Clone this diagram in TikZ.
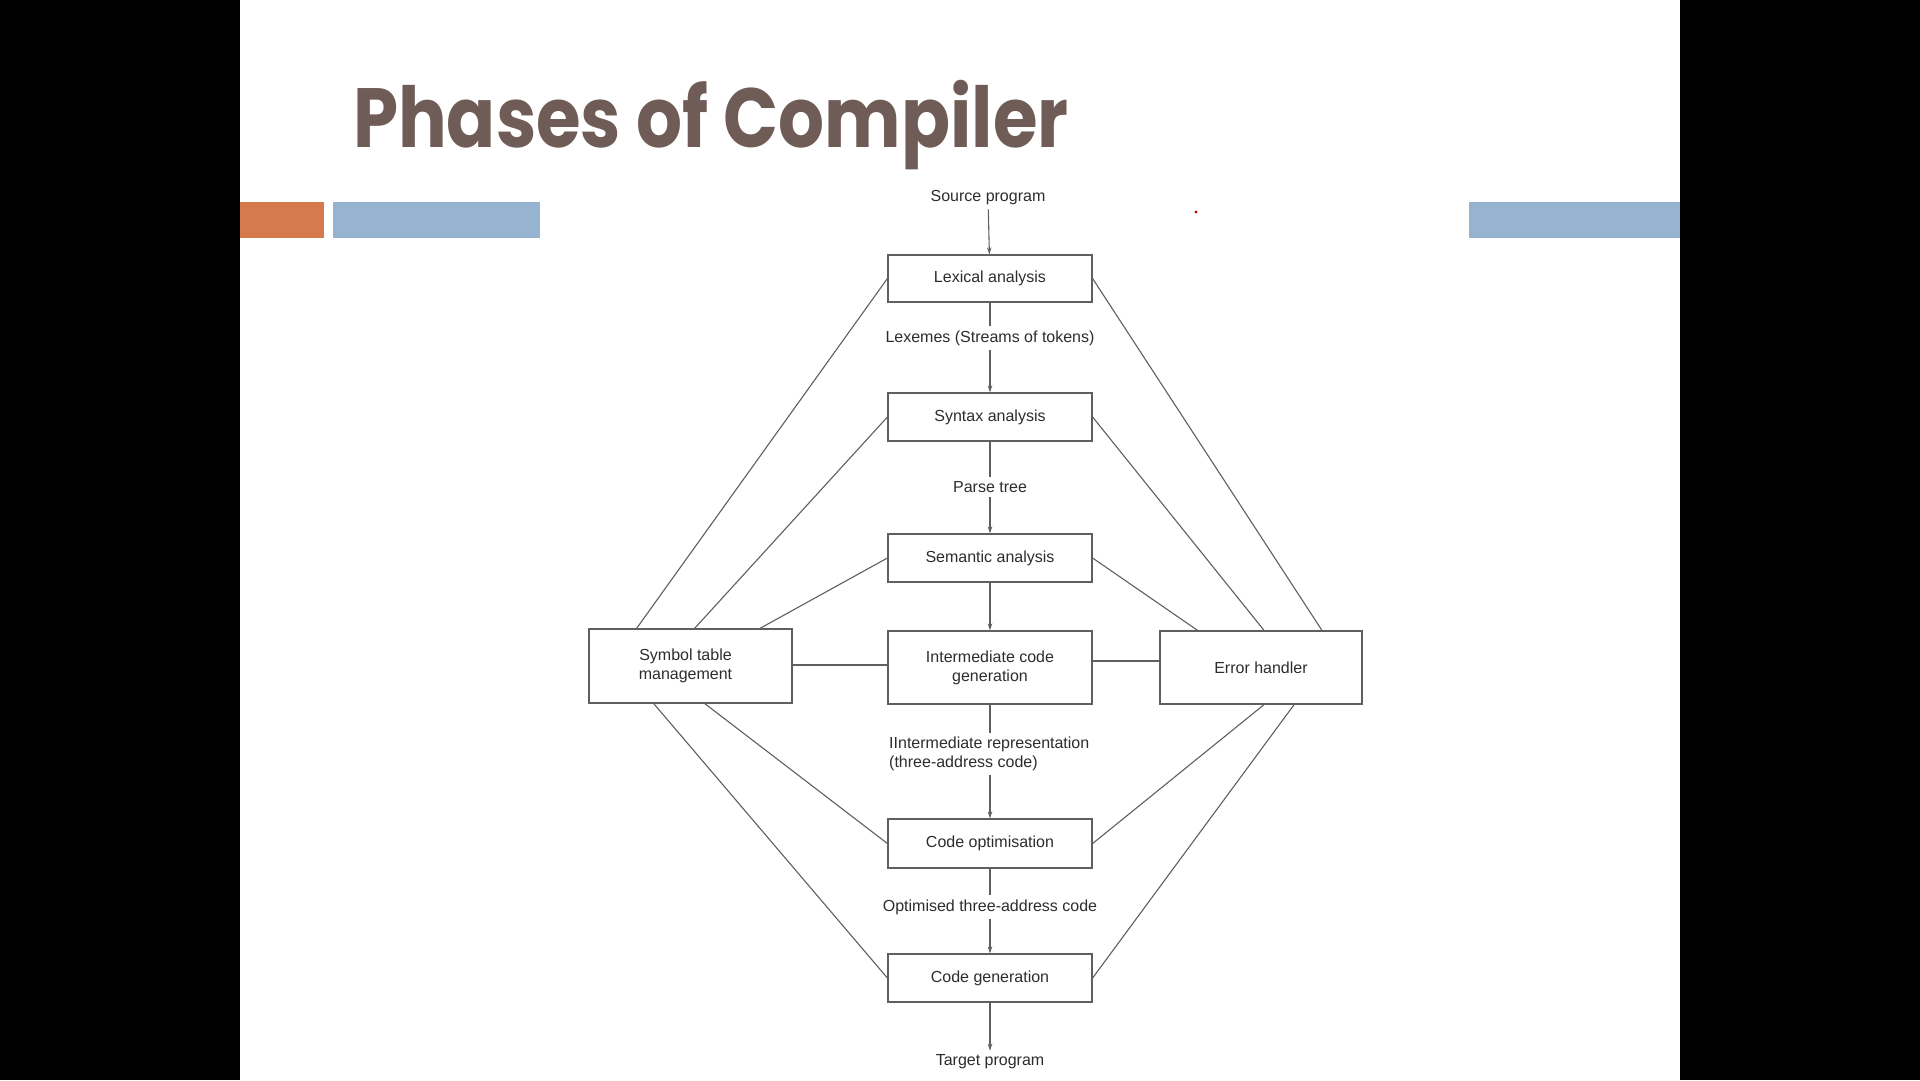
\documentclass[tikz,border=0pt]{standalone}
\usepackage{fontspec}
\setmainfont{Liberation Sans}
\newfontfamily\titlefont{Poppins}
\usetikzlibrary{arrows.meta,calc}
\definecolor{titlec}{RGB}{112,92,86}
\definecolor{orangebar}{RGB}{212,122,76}
\definecolor{bluebar}{RGB}{150,180,208}
\definecolor{txt}{RGB}{45,45,45}
\definecolor{linec}{RGB}{95,95,95}
\begin{document}
\begin{tikzpicture}[x=1pt,y=-1pt,
  phase/.style={draw=linec, line width=1.2pt, minimum width=204pt, minimum height=48pt,
    align=center, font=\fontsize{16}{19}\selectfont, text=txt, inner sep=0pt},
  lbl/.style={font=\fontsize{16}{19}\selectfont, text=txt, inner sep=4pt},
  conn/.style={draw=linec, line width=1.1pt},
  arr/.style={conn, -{Stealth[length=7pt,width=4.5pt]}}]
\useasboundingbox (0,0) rectangle (1920,1080);
\fill[black] (0,0) rectangle (240,1080);
\fill[white] (240,0) rectangle (1680,1080);
\fill[black] (1680,0) rectangle (1920,1080);
% decoration bars
\fill[orangebar] (240,202) rectangle (324,238);
\fill[bluebar] (333,202) rectangle (540,238);
\fill[bluebar] (1469,202) rectangle (1680,238);
\fill[red!80!black] (1196,212) circle (1.6pt);
% title
\node[anchor=base west, inner sep=0pt, text=titlec, font=\titlefont\bfseries\fontsize{84}{90}\selectfont] (title) at (353,147) {\scalebox{0.86}[1]{Phases of Compiler}};
% phases
\node[phase, minimum height=47pt] (lex) at (990,278.5) {Lexical analysis};
\node[phase] (syn) at (990,417) {Syntax analysis};
\node[phase] (sem) at (990,558) {Semantic analysis};
\node[phase, minimum height=73pt] (icg) at (990,667.5) {Intermediate code\\generation};
\node[phase, minimum height=49pt] (opt) at (990,843.5) {Code optimisation};
\node[phase] (gen) at (990,978) {Code generation};
\node[phase, minimum width=203pt, minimum height=74pt] (sym) at (690.5,666) {\hspace*{-10pt}\begin{tabular}{@{}c@{}}Symbol table\\management\end{tabular}};
\node[phase, minimum width=202pt, minimum height=73pt] (err) at (1261,667.5) {Error handler};
% labels
\node[lbl] (src) at (988,198) {Source program};
\node[lbl] (lexemes) at (990,338) {Lexemes (Streams of tokens)};
\node[lbl] (parse) at (990,487) {Parse tree};
\node[lbl, anchor=west, align=left, inner sep=4pt, inner xsep=0pt] (ir) at (889,754) {IIntermediate representation\\(three-address code)};
\node[lbl] (optl) at (990,907) {Optimised three-address code};
\node[lbl] (tgt) at (990,1062) {Target program};
% main flow
\draw[arr] (src) -- (lex);
\draw[conn] (lex) -- (lexemes);
\draw[arr] (lexemes) -- (syn);
\draw[conn] (syn) -- (parse);
\draw[arr] (parse) -- (sem);
\draw[arr] (sem) -- (icg);
\draw[conn] (icg.south) -- (icg.south |- ir.north);
\draw[arr] (icg.south |- ir.south) -- (opt.north);
\draw[conn] (opt) -- (optl);
\draw[arr] (optl) -- (gen);
\draw[arr] (gen) -- (tgt);
% side links
\coordinate (hl) at (0,665);
\coordinate (hr) at (0,661);
\draw[conn] (sym.east |- hl) -- (icg.west |- hl);
\draw[conn] (icg.east |- hr) -- (err.west |- hr);
\draw[conn] (lex.west) -- ($(sym.north west)!0.236!(sym.north east)$);
\draw[conn] (syn.west) -- ($(sym.north west)!0.52!(sym.north east)$);
\draw[conn] (sem.west) -- ($(sym.north west)!0.84!(sym.north east)$);
\draw[conn] (opt.west) -- ($(sym.south west)!0.57!(sym.south east)$);
\draw[conn] (gen.west) -- ($(sym.south west)!0.32!(sym.south east)$);
\draw[conn] (lex.east) -- ($(err.north west)!0.80!(err.north east)$);
\draw[conn] (syn.east) -- ($(err.north west)!0.515!(err.north east)$);
\draw[conn] (sem.east) -- ($(err.north west)!0.188!(err.north east)$);
\draw[conn] (opt.east) -- ($(err.south west)!0.515!(err.south east)$);
\draw[conn] (gen.east) -- ($(err.south west)!0.663!(err.south east)$);
\end{tikzpicture}
\end{document}
